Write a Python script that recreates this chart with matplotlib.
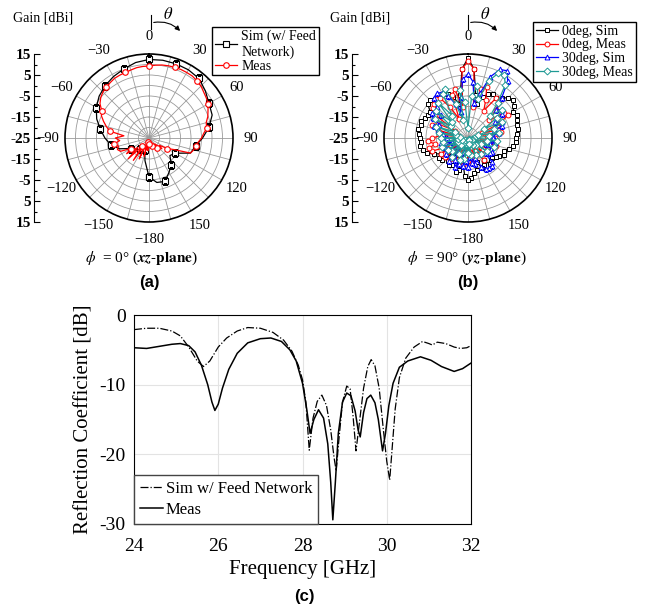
import numpy as np
import matplotlib.pyplot as plt
from matplotlib.ticker import MultipleLocator
from matplotlib.patches import FancyArrowPatch
from matplotlib.lines import Line2D

plt.rcParams['font.family'] = 'Liberation Serif'
plt.rcParams['mathtext.fontset'] = 'stix'

W, H = 649, 607

# (a) phi = 0 cut
theta_a_sim = np.arange(-180, 181, 10)
gain_a_sim = [-6.5, -14, -19, -19, -18, -16.5, -15, -10, -6.5, -4,
              -1.5, 1.5, 4, 6, 7.5, 8.8, 10, 11.5, 12.4, 12.6,
              12.6, 12.5, 12, 10, 8, 7, 4, 0.5, -2.5, -4,
              -10.5, -12, -8.5, -6, -3, -3.5, -6.5]
theta_a_meas = np.arange(-180, 181, 5)
gain_a_meas = [-22, -19, -24, -16, -23, -14, -21, -12, -20, -11,
               -18, -12, -15, -10, -9, -10, -8, -11, -9, -13,
               -6, -4, -2, 0, 1, 3.5, 5, 6, 6.5, 7.2,
               7.8, 8, 8.2, 8.5, 9, 9.2, 9.3, 9.8, 10.3, 10.6,
               10.8, 11, 11, 11, 10.5, 10, 9, 8.3, 7.5, 6,
               4.8, 3.2, 3, 1.2, 0, -1.5, -2.5, -3, -4, -12,
               -15, -19, -17, -21, -19, -22, -20, -23, -21, -23,
               -20, -22, -22]

# (b) phi = 90 cut
theta_b = np.arange(-180, 181, 5)
gain_b_sim0 = [-5, -7, -12, -9, -8, -14, -10, -9.5, -10.5, -15,
               -9, -8, -10, -7, -4, -3, -2, -2.5, -2, -1.5,
               -1, -2, -1, -2.5, -3, -3, 0, 0.5, -0.5, -1,
               -1, -2, -4, -8, -4, 8, 13, 8, -4, -8,
               -4, -2, -1, -2, 0, 2, 2.8, 1.5, 0, 1,
               0, -1, -1, -1.5, -2, -2, -3, -5, -7, -6,
               -8, -9, -10, -9.5, -9, -12, -10, -9, -13, -9,
               -8, -6, -5]
gain_b_meas0 = [-14, -20, -12, -22, -15, -20, -13, -20, -12, -18,
                -11, -19, -10, -16, -7, -6, -9, -6, -8, -12,
                -20, -10, -7, -9, -18, -6, -3, -2, -1, -2,
                -8, -15, -3, -1, -10, 8, 11.5, 8, -10, -1,
                1, -5, -10, -2, -2, -6, -12, -4, -3, -8,
                -18, -10, -9, -16, -12, -14, -20, -11, -13, -20,
                -13, -16, -22, -14, -19, -12, -18, -22, -15, -20,
                -13, -19, -14]
gain_b_sim30 = [-11, -14, -11.5, -18, -12, -10, -13, -17, -11, -14,
                -19, -12, -15, -13.5, -13, -17, -12, -13, -15, -12,
                -13, -10, -8, -10, -6, -4, -8, -4, 0, 1,
                0, -3, -8, -12, -5, 3, 5.5, 2, -8, -3,
                6, 11, 12, 8, 0, -6, -4, -5, -10, -7,
                -8, -12, -10, -13, -13, -15, -12, -14, -16, -13,
                -12, -12.5, -14, -9, -7.5, -7.5, -8, -10, -15, -12,
                -13, -16, -11]
gain_b_meas30 = [-18, -24, -15, -22, -14, -23, -16, -22, -13, -20,
                 -15, -23, -14, -20, -12, -22, -13, -20, -12, -21,
                 -11, -19, -9, -18, -7, -15, -5, -14, -3, -12,
                 -1, 1, -8, -16, -2, -8, -20, -5, 0, -6,
                 4, 9, 9.5, 6, -3, -10, -4, -8, -16, -7,
                 -12, -20, -10, -15, -22, -11, -16, -23, -12, -18,
                 -23, -14, -20, -24, -15, -21, -24, -16, -22, -24,
                 -17, -22, -18]

# (c) reflection coefficient
freq_sim = [24.0, 24.3, 24.6, 24.9, 25.1, 25.3, 25.5, 25.65, 25.8, 26.0,
            26.2, 26.45, 26.7, 27.0, 27.3, 27.55, 27.75, 27.9, 28.0, 28.08,
            28.16, 28.25, 28.35, 28.46, 28.57, 28.67, 28.75, 28.8, 28.87, 28.95,
            29.05, 29.13, 29.2, 29.27, 29.35, 29.45, 29.55, 29.63, 29.72, 29.82,
            29.92, 30.0, 30.07, 30.13, 30.2, 30.3, 30.45, 30.65, 30.85, 31.0,
            31.08, 31.2, 31.4, 31.6, 31.75, 31.9, 32.0]
s11_sim = [-2.1, -1.9, -1.9, -2.3, -3.0, -4.6, -6.6, -7.4, -6.6, -4.6,
           -3.3, -2.3, -1.8, -1.9, -2.5, -3.6, -5.2, -7.2, -9.3, -12.5,
           -19.4, -14.8, -12.4, -11.5, -13.0, -16.5, -20.5, -22.4, -17.5, -12.5,
           -10.2, -10.6, -14.5, -19.5, -15.5, -10.5, -7.4, -6.4, -7.3, -10.5,
           -16.5, -21.0, -23.7, -19.0, -13.5, -9.0, -6.2, -4.6, -3.8, -4.1,
           -4.3, -3.9, -4.1, -4.6, -4.8, -4.7, -4.4]
freq_meas = [24.0, 24.3, 24.6, 24.9, 25.1, 25.3, 25.45, 25.6, 25.75, 25.85,
             25.92, 26.0, 26.1, 26.25, 26.45, 26.7, 27.0, 27.25, 27.5, 27.7,
             27.85, 28.0, 28.1, 28.18, 28.27, 28.38, 28.5, 28.6, 28.67, 28.72,
             28.78, 28.85, 28.95, 29.05, 29.15, 29.25, 29.32, 29.37, 29.45, 29.53,
             29.62, 29.72, 29.8, 29.9, 29.97, 30.05, 30.15, 30.3, 30.5, 30.8,
             31.05, 31.3, 31.6, 31.8, 32.0]
s11_meas = [-4.7, -4.8, -4.5, -4.2, -4.1, -4.4, -5.3, -7.2, -10.0, -12.5,
            -13.7, -12.8, -10.5, -7.8, -5.5, -4.0, -3.4, -3.3, -3.8, -5.0,
            -6.6, -9.8, -13.5, -17.0, -15.0, -13.6, -14.8, -18.5, -24.0, -29.4,
            -24.0, -17.0, -12.5, -11.2, -11.6, -13.8, -16.5, -17.5, -14.0, -12.0,
            -11.5, -12.6, -15.0, -19.5, -17.0, -13.0, -9.8, -7.5, -6.6, -6.0,
            -6.5, -7.4, -8.1, -7.7, -6.9]

fig = plt.figure(figsize=(W / 100, H / 100), dpi=100)


def polar_panel(cx):
    ax = fig.add_axes([(cx - 84) / W, 1 - 222 / H, 168 / W, 168 / H], projection='polar')
    ax.set_theta_zero_location('N')
    ax.set_theta_direction(-1)
    ax.set_ylim(-25, 15)
    ax.set_yticks(np.arange(-20, 15, 5))
    ax.set_yticklabels([])
    ticks = np.arange(0, 360, 15)
    labels = []
    for t in ticks:
        if t % 30:
            labels.append('')
        else:
            d = t if t < 180 else t - 360
            labels.append(str(d).replace('-', '\u2212'))
    ax.set_thetagrids(ticks, labels)
    ax.grid(color='#9a9a9a', lw=0.6)
    ax.spines['polar'].set_linewidth(1.2)
    ax.tick_params(axis='x', labelsize=10.5, pad=2)
    return ax


def gain_axis(x):
    ax = fig.add_axes([x / W, 1 - 222 / H, 0.001, 168 / H])
    ax.set_ylim(-40, 40)
    ax.set_yticks(np.arange(-40, 41, 10))
    ax.set_yticklabels(['15', '5', '-5', '-15', '-25', '-15', '-5', '5', '15'],
                       fontweight='bold')
    ax.yaxis.set_minor_locator(MultipleLocator(5))
    ax.tick_params(axis='y', direction='in', length=4, width=0.8, labelsize=11, pad=2)
    ax.tick_params(axis='y', which='minor', direction='in', length=2, width=0.8)
    for s in ['top', 'right', 'bottom']:
        ax.spines[s].set_visible(False)
    ax.set_xticks([])
    ax.patch.set_visible(False)


def theta_arrow(x):
    fig.add_artist(Line2D([x / W, x / W], [1 - 15 / H, 1 - 29 / H],
                          transform=fig.transFigure, color='k', lw=0.8))
    fig.add_artist(FancyArrowPatch((x / W, 1 - 23 / H), ((x + 31) / W, 1 - 33 / H),
                                   transform=fig.transFigure,
                                   connectionstyle='arc3,rad=-0.3',
                                   arrowstyle='-|>', mutation_scale=7, lw=0.8, color='k'))
    fig.text((x + 17) / W, 1 - 15 / H, r'$\theta$', fontsize=12, ha='center', va='center')


leg_kw = dict(bbox_transform=fig.transFigure, fancybox=False, edgecolor='k',
              framealpha=1, fontsize=10, borderpad=0.2, labelspacing=0.05,
              handlelength=1.6, handletextpad=0.3, borderaxespad=0, loc='upper left')

mk = dict(mfc='white', ms=4, mew=0.8, lw=0.9)

# panel (a)
axa = polar_panel(149)
axa.plot(np.deg2rad(theta_a_sim), gain_a_sim, 'k-s', markevery=2,
         label='Sim (w/ Feed\nNetwork)', **mk)
axa.plot(np.deg2rad(theta_a_meas), gain_a_meas, '-o', color='#ff0000', markevery=4,
         label='Meas', **mk)
axa.legend(bbox_to_anchor=(212 / W, 1 - 27 / H), **leg_kw)
gain_axis(34)
theta_arrow(151)
fig.text(13 / W, 1 - 18 / H, 'Gain [dBi]', fontsize=10, va='center')
fig.text(141 / W, 1 - 258 / H, r'$\phi$  = 0° ($\mathbfit{xz}\text{-}\mathbf{plane}$)',
         fontsize=11, ha='center', va='center')
fig.text(149 / W, 1 - 283 / H, '(a)', fontfamily='Liberation Sans', fontweight='bold',
         fontsize=12, ha='center', va='center')

# panel (b)
mkb = dict(mfc='white', ms=3.5, mew=0.7, lw=0.9)
axb = polar_panel(468)
tb = np.deg2rad(theta_b)
axb.plot(tb, gain_b_sim0, 'k-s', label='0deg, Sim', **mkb)
axb.plot(tb, gain_b_meas0, '-o', color='#ff0000', label='0deg, Meas', **mkb)
axb.plot(tb, gain_b_sim30, '-^', color='#0000ff', label='30deg, Sim', **mkb)
axb.plot(tb, gain_b_meas30, '-D', color='#1f9a94', label='30deg, Meas', **mkb)
axb.legend(bbox_to_anchor=(533 / W, 1 - 22 / H), **leg_kw)
gain_axis(352)
theta_arrow(468)
fig.text(330 / W, 1 - 18 / H, 'Gain [dBi]', fontsize=10, va='center')
fig.text(467 / W, 1 - 258 / H, r'$\phi$  = 90° ($\mathbfit{yz}\text{-}\mathbf{plane}$)',
         fontsize=11, ha='center', va='center')
fig.text(468 / W, 1 - 283 / H, '(b)', fontfamily='Liberation Sans', fontweight='bold',
         fontsize=12, ha='center', va='center')

# panel (c)
axc = fig.add_axes([134 / W, 1 - 524 / H, 337 / W, 209 / H])
axc.plot(freq_sim, s11_sim, 'k-.', lw=0.9, label='Sim w/ Feed Network')
axc.plot(freq_meas, s11_meas, 'k-', lw=1.1, label='Meas')
axc.set_xlim(24, 32)
axc.set_ylim(-30, 0)
axc.set_xticks([24, 26, 28, 30, 32])
axc.set_yticks([-30, -20, -10, 0])
axc.set_yticklabels(['-30', '-20', '-10', '0'])
axc.grid(color='#e3e3e3', lw=0.8)
axc.tick_params(length=0, labelsize=14, pad=6)
axc.tick_params(axis='x', pad=10)
for s in axc.spines.values():
    s.set_linewidth(0.8)
axc.set_xlabel('Frequency [GHz]', fontsize=15, labelpad=4)
axc.set_ylabel('Reflection Coefficient [dB]', fontsize=15, labelpad=4)
axc.legend(loc='lower left', borderaxespad=0, fancybox=False, edgecolor='#444444',
           framealpha=1, fontsize=12, handlelength=1.4, borderpad=0.35,
           labelspacing=0.3, handletextpad=0.15)
fig.text(304 / W, 1 - 597 / H, '(c)', fontfamily='Liberation Sans', fontweight='bold',
         fontsize=12, ha='center', va='center')

fig.savefig('out.png', dpi=100)
